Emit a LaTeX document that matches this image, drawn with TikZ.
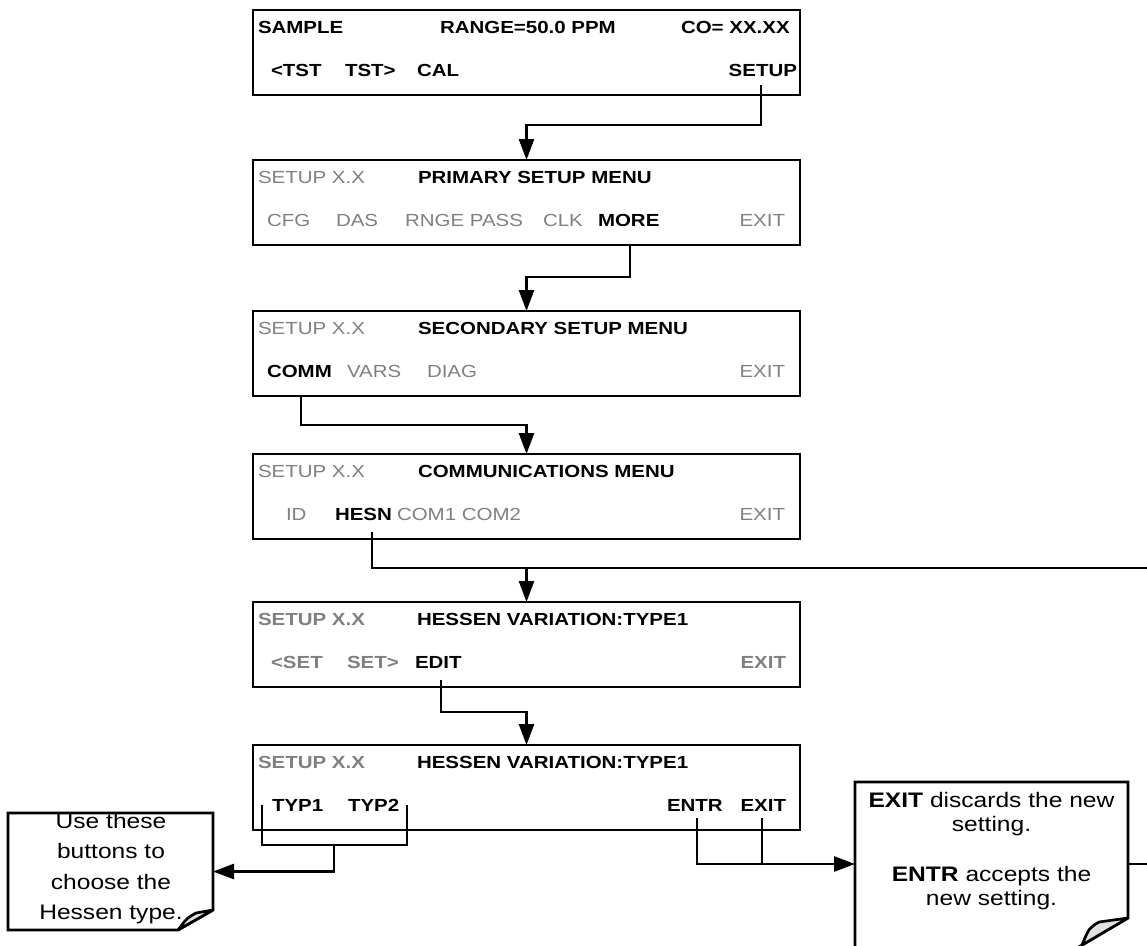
\documentclass[tikz,border=0pt]{standalone}
\usepackage{fontspec}
\setmainfont{Liberation Sans}[FakeStretch=1.17]
\usetikzlibrary{arrows.meta}
\definecolor{gtxt}{RGB}{128,128,128}
\definecolor{flapgray}{RGB}{225,225,225}
\begin{document}
\begin{tikzpicture}[x=1pt,y=-1pt,
  scr/.style={draw, line width=2.7pt, outer sep=0pt, inner sep=0pt, anchor=north west, minimum width=547pt, minimum height=85pt},
  lb/.style={anchor=base west, inner sep=0pt, outer sep=0pt, font=\fontsize{17.5}{20}\selectfont},
  lbr/.style={lb, anchor=base east},
  gr/.style={text=gtxt},
  bb/.style={font=\fontsize{17.5}{20}\selectfont\bfseries},
  con/.style={line width=2.7pt},
  arr/.style={con, -{Triangle[length=21pt,width=15pt]}},
  frame/.style={inner sep=0pt, outer sep=0pt, anchor=north west},
  ntxt/.style={align=center, inner sep=0pt, anchor=north},
  flap/.style={con, fill=flapgray, line join=round}
]
\useasboundingbox (0,0) rectangle (1147,945);
\fill[white] (0,0) rectangle (1147,945);

% ---- Box 1
\node[scr] (b1) at (253,10) {};
\node[lb,bb] (b1a) at (258,33) {SAMPLE};
\node[lb,bb] (b1b) at (440,33) {RANGE=50.0 PPM};
\node[lb,bb] (b1c) at (681,33) {CO= XX.XX};
\node[lb,bb] (b1d) at (271,76) {<TST};
\node[lb,bb] (b1e) at (345,76) {TST>};
\node[lb,bb] (b1f) at (417,76) {CAL};
\node[lbr,bb] (b1g) at (797,76) {SETUP};

% ---- Box 2
\node[scr] (b2) at (253,160) {};
\node[lb,gr] (b2a) at (258,183) {SETUP X.X};
\node[lb,bb] (b2b) at (418,183) {PRIMARY SETUP MENU};
\node[lb,gr] (b2c) at (267,226) {CFG};
\node[lb,gr] (b2d) at (336,226) {DAS};
\node[lbr,gr] (b2e) at (523,226) {RNGE PASS};
\node[lb,gr] (b2f) at (543,226) {CLK};
\node[lb,bb] (b2g) at (598,226) {MORE};
\node[lbr,gr] (b2h) at (785,226) {EXIT};

% ---- Box 3
\node[scr] (b3) at (253,311) {};
\node[lb,gr] (b3a) at (258,334) {SETUP X.X};
\node[lb,bb] (b3b) at (418,334) {SECONDARY SETUP MENU};
\node[lb,bb] (b3c) at (267,377) {COMM};
\node[lb,gr] (b3d) at (347,377) {VARS};
\node[lb,gr] (b3e) at (427,377) {DIAG};
\node[lbr,gr] (b3f) at (785,377) {EXIT};

% ---- Box 4
\node[scr] (b4) at (253,454) {};
\node[lb,gr] (b4a) at (258,477) {SETUP X.X};
\node[lb,bb] (b4b) at (418,477) {COMMUNICATIONS MENU};
\node[lb,gr] (b4c) at (286,520) {ID};
\node[lb,bb] (b4d) at (335,520) {HESN};
\node[lb,gr] (b4e) at (397,520) {COM1 COM2};
\node[lbr,gr] (b4f) at (785,520) {EXIT};

% ---- Box 5
\node[scr] (b5) at (253,602) {};
\node[lb,bb,gr] (b5a) at (258,625) {SETUP X.X};
\node[lb,bb] (b5b) at (417,625) {HESSEN VARIATION:TYPE1};
\node[lb,bb,gr] (b5c) at (271,668) {<SET};
\node[lb,bb,gr] (b5d) at (347,668) {SET>};
\node[lb,bb] (b5e) at (415,668) {EDIT};
\node[lbr,bb,gr] (b5f) at (786,668) {EXIT};

% ---- Box 6
\node[scr] (b6) at (253,745) {};
\node[lb,bb,gr] (b6a) at (258,768) {SETUP X.X};
\node[lb,bb] (b6b) at (417,768) {HESSEN VARIATION:TYPE1};
\node[lb,bb] (b6c) at (272,811) {TYP1};
\node[lb,bb] (b6d) at (348,811) {TYP2};
\node[lb,bb] (b6e) at (667,811) {ENTR};
\node[lbr,bb] (b6f) at (786,811) {EXIT};

% ---- Notes
\node[frame, minimum width=205pt, minimum height=117pt] (n1) at (8,813) {};
\draw[con] (n1.north west) -- (n1.north east) -- (213,910) -- (178,930) -- (n1.south west) -- cycle;
\node[ntxt, font=\fontsize{21}{30.5}\selectfont] (n1t) at (111,813) {Use these\\buttons to\\choose the\\Hessen type.};
\filldraw[flap] (213,910) -- (196,913) .. controls (187,918) .. (178,930) -- cycle;

\node[frame, minimum width=273pt, minimum height=164pt] (n2) at (855,782) {};
\draw[con] (855,960) -- (n2.north west) -- (n2.north east) -- (1128,918) -- (1060,958);
\node[ntxt, font=\fontsize{21}{24}\selectfont] (n2t) at (991.5,792) {\textbf{EXIT} discards the new\\setting.\\[26pt]\textbf{ENTR} accepts the\\new setting.};
\filldraw[flap] (1128,918) -- (1099,922) .. controls (1089,928) .. (1082,945) -- cycle;

% ---- Connectors
\coordinate (setupL) at (761,85);
\draw[arr] (setupL) -- (761,125) -| (b2.north);

\coordinate (moreL) at (630,245);
\draw[arr] (moreL) -- (630,277) -| (b3.north);

\coordinate (commL) at (301,396);
\draw[arr] (commL) -- (301,425) -| (b4.north);

\coordinate (hesnL) at (372,532);
\coordinate (hesnR) at (1147,568);
\draw[con] (hesnL) |- (hesnR);
\draw[arr] (b5.north |- hesnR) -- (b5.north);

\coordinate (editL) at (441,680);
\draw[arr] (editL) -- (441,712) -| (b6.north);

\coordinate (typL) at (262,805);
\coordinate (typR) at (407,805);
\draw[con] (typL) |- (407,845) -- (typR);
\draw[arr] (334,845) |- (n1.east);

\coordinate (entrL) at (697,818);
\coordinate (exitL) at (762,818);
\draw[arr] (entrL) |- (n2.west);
\draw[con] (exitL) -- (exitL |- n2.west);

\coordinate (n2R) at (1147,864);
\draw[con] (n2.east) -- (n2R);
\end{tikzpicture}
\end{document}
